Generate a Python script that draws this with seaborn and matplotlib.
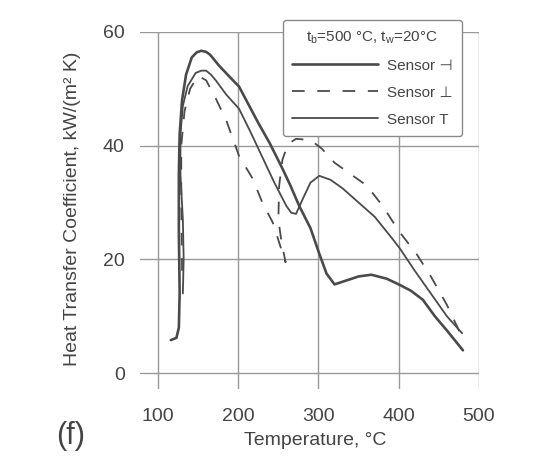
import matplotlib
matplotlib.use("Agg")
import matplotlib.pyplot as plt
import seaborn as sns
import pandas as pd

# ---- data ----
upper_T = [116, 123, 126, 127, 126, 126, 127, 130, 135, 142, 148, 154, 160, 165, 176, 190, 201, 210, 225,
           239, 255, 265, 276, 290, 301, 310, 320, 335, 350, 366, 385, 400, 415, 430, 445, 460, 480]
upper_h = [5.8, 6.2, 8, 14, 25, 35, 42, 48, 52.5, 55.5, 56.4, 56.7, 56.5, 56, 54.1, 52, 50.4, 48, 44,
           40.5, 36, 33, 29.4, 25.5, 21, 17.5, 15.6, 16.3, 17, 17.3, 16.6, 15.6, 14.5, 12.9, 10, 7.5, 4]

dash_T = [130, 129, 129, 133, 140, 150, 160, 172, 185, 201, 218, 230, 243, 255, 259, 254, 250,
          251, 255, 262, 272, 290, 304, 320, 340, 360, 380, 400, 422, 440, 460, 476]
dash_h = [18, 30, 40, 46, 50, 52.3, 51.5, 48.3, 44.5, 38.2, 34.2, 30, 26.5, 21.2, 19.5, 23, 27,
          33, 37.5, 40.3, 41.2, 41, 39.5, 37, 35, 33, 29.4, 25, 21, 17, 12, 7.2]

mid_T = [131, 132, 131, 128, 128, 131, 137, 147, 154, 160, 166, 172, 185, 201, 215, 230, 245, 260, 266,
         272, 280, 290, 301, 315, 330, 350, 370, 390, 401, 420, 440, 460, 479]
mid_h = [14, 20, 27, 35, 42, 47, 50.5, 52.8, 53.2, 53.2, 52.5, 51.5, 49, 46.5, 42.5, 38, 33.5, 29.4, 28.2,
         28, 30.5, 33.5, 34.7, 34, 32.5, 30, 27.5, 24, 22, 18, 14, 10, 7]

labels = ["Sensor \u22a3", "Sensor \u22a5", "Sensor T"]
legend_title = r"t$_\mathrm{b}$=500 °C, t$_\mathrm{w}$=20°C"
x_ticks = [100, 200, 300, 400, 500]
y_ticks = [0, 20, 40, 60]

sns.set_style("white")
plt.rcParams["font.family"] = ["Liberation Sans", "DejaVu Sans"]
plt.rcParams["mathtext.fontset"] = "custom"
plt.rcParams["mathtext.rm"] = "Liberation Sans"
plt.rcParams["mathtext.it"] = "Liberation Sans:italic"

text_c = "#444444"
line_c = "#4a4a4a"
grid_c = "#999999"

fig = plt.figure(figsize=(5.58, 4.61), dpi=100)
ax = fig.add_axes([0.2509, 0.1562, 0.6075, 0.7744])

df_u = pd.DataFrame({"T": upper_T, "h": upper_h})
df_d = pd.DataFrame({"T": dash_T, "h": dash_h})
df_m = pd.DataFrame({"T": mid_T, "h": mid_h})

sns.lineplot(data=df_u, x="T", y="h", sort=False, estimator=None, ax=ax,
             color=line_c, lw=1.9, label=labels[0])
sns.lineplot(data=df_d, x="T", y="h", sort=False, estimator=None, ax=ax,
             color=line_c, lw=1.3, linestyle=(0, (7, 7)), label=labels[1])
sns.lineplot(data=df_m, x="T", y="h", sort=False, estimator=None, ax=ax,
             color=line_c, lw=1.3, label=labels[2])

ax.set_xlim(77.6, 500)
ax.set_ylim(-2.8, 60)
ax.set_xticks(x_ticks)
ax.set_yticks(y_ticks)
ax.grid(True, color=grid_c, lw=1.0)
ax.set_axisbelow(True)
for s in ax.spines.values():
    s.set_visible(False)
ax.tick_params(axis="both", length=0, labelsize=14, labelcolor=text_c)
ax.tick_params(axis="x", pad=14)
ax.tick_params(axis="y", pad=11)

ax.set_xlabel("Temperature, °C", fontsize=14, color=text_c)
ax.set_ylabel("Heat Transfer Coefficient, kW/(m² K)", fontsize=14, color=text_c)
ax.xaxis.set_label_coords(0.516, -0.12)
ax.xaxis.label.set_va("top")
ax.yaxis.set_label_coords(-0.198, 0.5056)
ax.yaxis.label.set_va("center")

leg = ax.legend(title=legend_title, loc="upper left",
                bbox_to_anchor=(283 / 558, 1 - 20 / 461), bbox_transform=fig.transFigure,
                fontsize=11, title_fontsize=11, frameon=True, fancybox=True,
                handlelength=5.6, handletextpad=0.6, labelspacing=0.85,
                borderpad=0.6, borderaxespad=0.0, labelcolor=text_c)
leg.get_title().set_color(text_c)
frame = leg.get_frame()
frame.set_edgecolor("#8a8a8a")
frame.set_linewidth(1.0)
frame.set_facecolor("white")
frame.set_alpha(1.0)

fig.text(71 / 558, 1 - 436 / 461, "(f)", fontsize=22, color=text_c, ha="center", va="center")

fig.savefig("out.png", dpi=100)
